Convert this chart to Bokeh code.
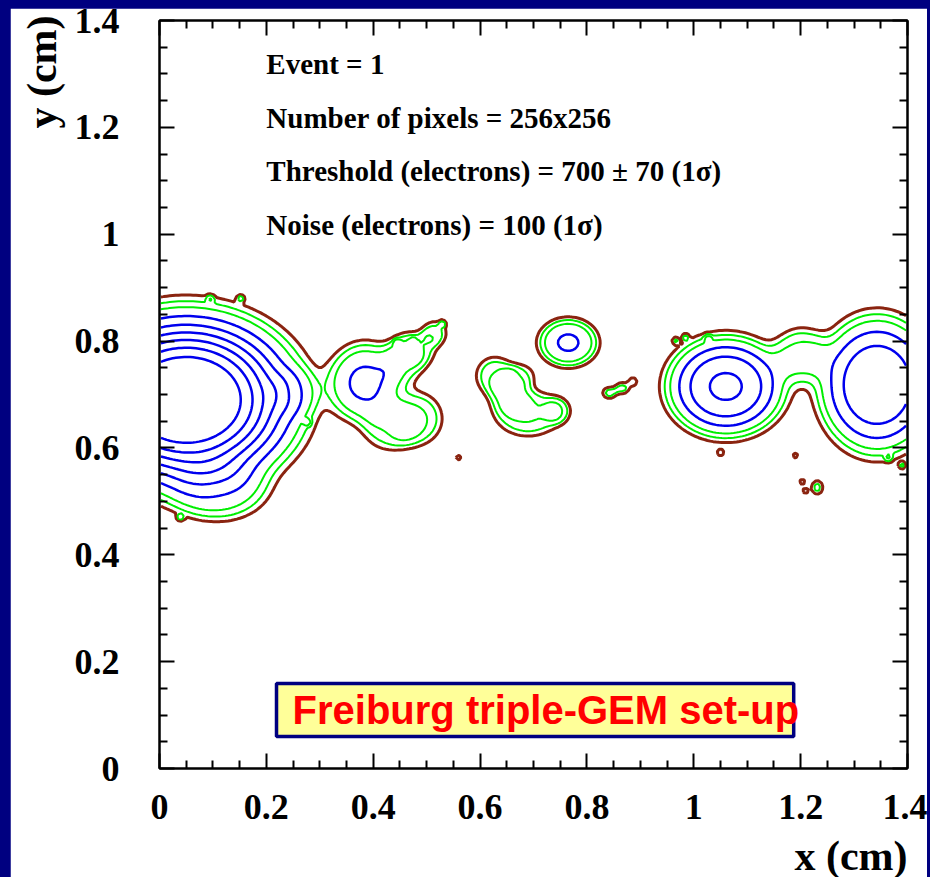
import numpy as np
from bokeh.plotting import figure
from bokeh.models import (LinearAxis, FixedTicker, Label, BoxAnnotation, Range1d, Title,
                          GlobalInlineStyleSheet)
from bokeh.embed import file_html
from bokeh.resources import INLINE

# ---------------- data ----------------
detector_size = 1.4          # cm
n_pixels = 256

x_ticks = [0, 0.2, 0.4, 0.6, 0.8, 1, 1.2, 1.4]
x_tick_labels = ["0", "0.2", "0.4", "0.6", "0.8", "1", "1.2", "1.4"]
y_ticks = [0, 0.2, 0.4, 0.6, 0.8, 1, 1.2, 1.4]
y_tick_labels = ["0", "0.2", "0.4", "0.6", "0.8", "1", "1.2", "1.4"]
minor_ticks = [0.05, 0.1, 0.15, 0.25, 0.3, 0.35, 0.45, 0.5, 0.55, 0.65, 0.7, 0.75,
               0.85, 0.9, 0.95, 1.05, 1.1, 1.15, 1.25, 1.3, 1.35]
x_title = "x (cm)"
y_title = "y (cm)"

# charge clouds: centre, width, amplitude (threshold units)
blob_cx = [0.05, 0.11, 0.25, 0.385, 0.48, 0.43, 0.475, 0.515, 0.458, 0.628, 0.69,
           0.745, 0.675, 0.655, 0.765, 0.842, 0.866, 0.886, 1.06, 1.343, 1.2, 1.231]
blob_cy = [0.69, 0.52, 0.705, 0.722, 0.655, 0.635, 0.785, 0.815, 0.76, 0.735, 0.665,
           0.67, 0.735, 0.70, 0.797, 0.703, 0.712, 0.724, 0.715, 0.718, 0.775, 0.526]
blob_sx = [0.14, 0.07, 0.035, 0.051, 0.04, 0.04, 0.035, 0.02, 0.033, 0.03, 0.05,
           0.02, 0.025, 0.03, 0.042, 0.012, 0.012, 0.008, 0.077, 0.077, 0.04, 0.01]
blob_sy = [0.11, 0.045, 0.035, 0.056, 0.04, 0.035, 0.028, 0.02, 0.033, 0.03, 0.035,
           0.02, 0.02, 0.03, 0.034, 0.01, 0.01, 0.008, 0.065, 0.09, 0.04, 0.012]
blob_amp = [17, 2.5, 1.4, 4.3, 2.5, 1.8, 2.0, 1.8, 1.6, 2.2, 2.5,
            1.6, 1.5, 1.8, 4.2, 1.8, 1.8, 1.5, 8.24, 7.83, 2.5, 1.8]

# isolated pixels above threshold
hit_x = [0.56, 1.203, 1.209, 1.05, 1.19, 1.364, 1.39, 0.039, 0.095, 0.152,
         0.277, 0.966, 0.984, 1.027, 0.445, 0.53, 0.475]
hit_y = [0.582, 0.537, 0.52, 0.591, 0.586, 0.582, 0.567, 0.47, 0.879, 0.88,
         0.648, 0.801, 0.807, 0.805, 0.797, 0.833, 0.8]
hit_amp = 1.35
hit_size = 0.006

contour_levels = [1.0, 1.6, 2.4, 4, 6, 8, 10, 12, 14]
level_colors = ["#8a2410", "#00ee00", "#00ee00", "#0000ee", "#0000ee", "#0000ee",
                "#0000ee", "#0000ee", "#0000ee"]
level_widths = [3, 2, 2, 2.5, 2.5, 2.5, 2.5, 2.5, 2.5]

info_lines = ["Event = 1",
              "Number of pixels = 256x256",
              "Threshold (electrons) = 700 \u00b1 70 (1\u03c3)",
              "Noise (electrons) = 100 (1\u03c3)"]
info_y = [1.318, 1.218, 1.118, 1.018]
banner = "Freiburg triple-GEM set-up"

# ---------------- pixel image ----------------
xs = (np.arange(n_pixels) + 0.5) * detector_size / n_pixels
ys = (np.arange(n_pixels) + 0.5) * detector_size / n_pixels
X, Y = np.meshgrid(xs, ys)
Z = np.zeros_like(X)
for cx, cy, sx, sy, a in zip(blob_cx, blob_cy, blob_sx, blob_sy, blob_amp):
    r = np.sqrt(((X - cx) / sx) ** 2 + ((Y - cy) / sy) ** 2)
    Z += a * np.exp(-0.5 * r ** 3)
for hx, hy in zip(hit_x, hit_y):
    r = np.sqrt((X - hx) ** 2 + (Y - hy) ** 2) / hit_size
    Z += hit_amp * np.exp(-0.5 * r ** 3)

# ---------------- figure ----------------
SERIF = "Liberation Serif"
p = figure(frame_width=748, frame_height=748,
           x_range=Range1d(0, detector_size), y_range=Range1d(0, detector_size),
           output_backend="svg", toolbar_location=None,
           min_border_left=149, min_border_right=20, min_border_top=12,
           min_border_bottom=109,
           background_fill_color="white", border_fill_color="white")
p.stylesheets = [GlobalInlineStyleSheet(
    css="html, body { overflow: hidden; } "
        "body { background-color: #000080; margin: 0; padding: 8px 0 0 10px; }")]
p.grid.visible = False
p.outline_line_color = "black"
p.outline_line_width = 2

p.contour(x=xs, y=ys, z=Z, levels=contour_levels,
          line_color=level_colors, line_width=level_widths)


def style_axis(ax, ticks, minor, labels, show_labels):
    ax.ticker = FixedTicker(ticks=ticks, minor_ticks=minor)
    ax.axis_line_width = 2
    ax.axis_line_color = "black"
    ax.major_tick_in = 15
    ax.major_tick_out = 0
    ax.minor_tick_in = 8
    ax.minor_tick_out = 0
    ax.major_tick_line_width = 2
    ax.minor_tick_line_width = 2
    ax.major_tick_line_color = "black"
    ax.minor_tick_line_color = "black"
    if show_labels:
        ax.major_label_overrides = {t: l for t, l in zip(ticks, labels)}
        ax.major_label_text_font = SERIF
        ax.major_label_text_font_style = "bold"
        ax.major_label_text_font_size = "36px"
        ax.major_label_text_color = "black"
    else:
        ax.major_label_text_color = None
        ax.major_label_text_font_size = "1px"
        ax.major_label_standoff = 0


style_axis(p.xaxis[0], x_ticks, minor_ticks, x_tick_labels, True)
style_axis(p.yaxis[0], y_ticks, minor_ticks, y_tick_labels, True)
p.xaxis[0].major_label_standoff = 26
p.yaxis[0].major_label_standoff = 40

top_axis = LinearAxis()
style_axis(top_axis, x_ticks, minor_ticks, x_tick_labels, False)
p.add_layout(top_axis, "above")
right_axis = LinearAxis()
style_axis(right_axis, y_ticks, minor_ticks, y_tick_labels, False)
p.add_layout(right_axis, "right")

# axis titles, right-aligned at the frame ends (ROOT style)
p.add_layout(Title(text=y_title, align="right", text_font=SERIF, text_font_style="bold",
                   text_font_size="42px", text_color="black", standoff=13, offset=-5),
             "left")
p.add_layout(Title(text=x_title, align="right", text_font=SERIF, text_font_style="bold",
                   text_font_size="42px", text_color="black", standoff=18),
             "below")

for txt, yy in zip(info_lines, info_y):
    p.add_layout(Label(x=0.2, y=yy, text=txt, text_font=SERIF, text_font_style="bold",
                       text_font_size="29px", text_color="black",
                       text_baseline="alphabetic"))

p.add_layout(BoxAnnotation(left=0.219, right=1.187, bottom=0.06, top=0.159,
                           fill_color="#ffff99", fill_alpha=1.0,
                           line_color="#000080", line_width=3.5, line_alpha=1.0))
p.add_layout(Label(x=0.249, y=0.11, text=banner, text_font="Liberation Sans",
                   text_font_style="bold", text_font_size="40px", text_color="#ff0000",
                   text_baseline="alphabetic", level="overlay"))

open("out.html", "w").write(file_html(p, INLINE))
